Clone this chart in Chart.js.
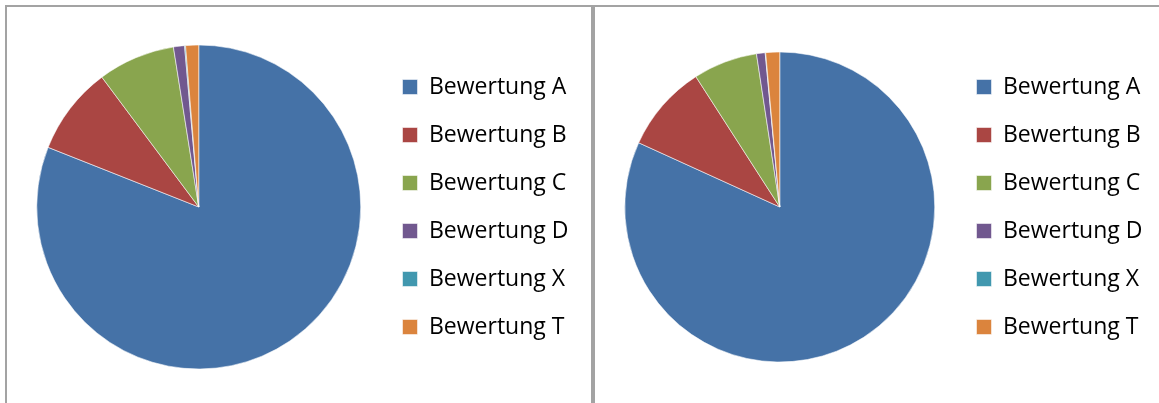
<!DOCTYPE html>
<html>
<head>
<meta charset="utf-8">
<script src="https://cdn.jsdelivr.net/npm/chart.js@4/dist/chart.umd.min.js"></script>
<style>
  html, body { margin: 0; padding: 0; background: #fff; overflow: hidden; }
  body { width: 1159px; height: 403px; position: relative; }
  .frame { position: absolute; top: 5px; height: 440px; border: 2px solid #a3a3a3; box-sizing: border-box; }
  #frameLeft { left: 5px; width: 588px; }
  #frameRight { left: 593px; width: 620px; }
  canvas { position: absolute; top: 8px; }
  #pieLeft { left: 8px; }
  #pieRight { left: 596px; }
</style>
</head>
<body>
<div class="frame" id="frameLeft"></div>
<div class="frame" id="frameRight"></div>
<canvas id="pieLeft" width="584" height="395"></canvas>
<canvas id="pieRight" width="563" height="395"></canvas>
<script>
var labels = ["Bewertung A", "Bewertung B", "Bewertung C", "Bewertung D", "Bewertung X", "Bewertung T"];
var colors = ["#4572A7", "#AA4643", "#89A54E", "#71588F", "#4198AF", "#DB843D"];

// Anteile in Prozent
var valuesLeft = [81.0, 8.8, 7.7, 1.1, 0.1, 1.3];
var valuesRight = [81.8, 9.1, 6.7, 0.9, 0.05, 1.45];

var fontFamily = "'Open Sans', sans-serif";
var fontSize = 23;
var boxSize = 15;
var rowGap = 25;

// Breite der Legende vorab messen, damit sie an fester Stelle steht
function legendWidth(ctx) {
  ctx.font = fontSize + "px " + fontFamily;
  var w = 0;
  labels.forEach(function (l) { w = Math.max(w, ctx.measureText(l).width); });
  return rowGap + boxSize + fontSize + w;
}

function makePie(id, values, radius, legendLeft, centerPad) {
  var canvas = document.getElementById(id);
  var ctx = canvas.getContext('2d');
  var right = canvas.width - legendLeft - legendWidth(ctx);
  return new Chart(ctx, {
    type: 'pie',
    data: {
      labels: labels,
      datasets: [{
        data: values,
        backgroundColor: colors,
        borderColor: 'rgba(255,255,255,0.55)',
        borderWidth: 1,
        hoverOffset: 0,
        radius: radius
      }]
    },
    options: {
      responsive: false,
      animation: false,
      layout: { padding: { left: centerPad, right: right, top: 3, bottom: 0 } },
      plugins: {
        tooltip: { enabled: false },
        legend: {
          position: 'right',
          labels: {
            boxWidth: boxSize,
            boxHeight: boxSize,
            padding: rowGap,
            color: '#000',
            font: { family: fontFamily, size: fontSize }
          }
        }
      }
    }
  });
}

makePie("pieLeft", valuesLeft, 162, 368, 12);
makePie("pieRight", valuesRight, 155, 354, 12);
</script>
</body>
</html>
